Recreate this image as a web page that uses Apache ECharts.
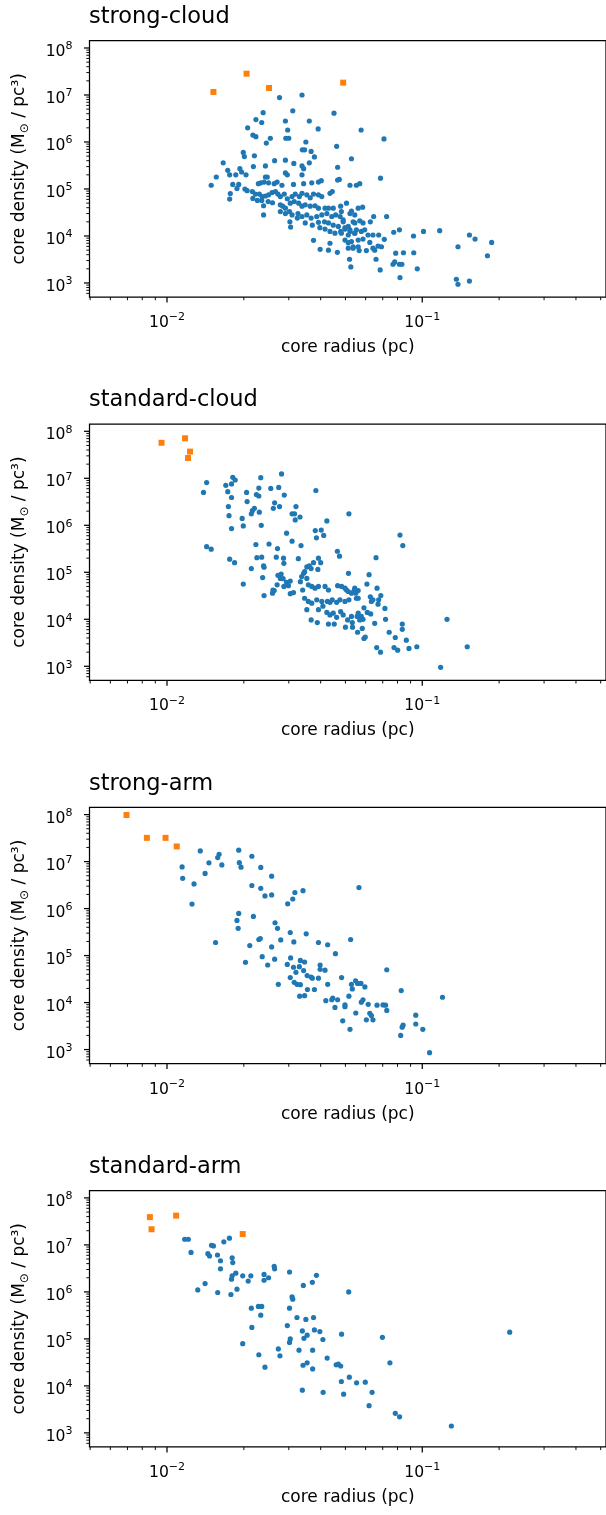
<!DOCTYPE html>
<html>
<head>
<meta charset="utf-8">
<script src="https://cdn.jsdelivr.net/npm/echarts@6.0.0/dist/echarts.min.js"></script>
<style>
html,body{margin:0;padding:0;background:#fff;}
#chart{width:606px;height:1515px;}
</style>
</head>
<body>
<div id="chart"></div>
<script>
// ---------------- data ----------------
const panelTitles = ['strong-cloud', 'standard-cloud', 'strong-arm', 'standard-arm'];
const xAxisTitle = 'core radius (pc)';
const yAxisTitle = 'core density (M{sub|⊙} / pc³)';
const xTickValues = [0.01, 0.1];
const xTickExponents = ['−2', '−1'];
const yTickValues = [1e3, 1e4, 1e5, 1e6, 1e7, 1e8];
const yTickExponents = ['3', '4', '5', '6', '7', '8'];

// [core radius (pc), core density (Msun/pc^3)]
const strongCloudCores = [
[0.0338,1.0e7],[0.0276,8.8e6],[0.0311,4.6e6],[0.0238,4.2e6],[0.0451,4.1e6],[0.0223,3.0e6],[0.0235,2.6e6],[0.0291,2.8e6],[0.0361,2.8e6],[0.0207,2.0e6],
[0.0297,1.8e6],[0.0391,1.9e6],[0.0217,1.4e6],[0.0223,1.3e6],[0.0292,1.2e6],[0.0300,1.2e6],[0.0254,1.2e6],[0.0245,9.5e5],[0.0350,1.0e6],[0.0462,8.1e5],
[0.0339,6.8e5],[0.0346,6.8e5],[0.0367,6.3e5],[0.0378,4.8e5],[0.0199,6.0e5],[0.0201,4.9e5],[0.0220,5.1e5],[0.0291,4.1e5],[0.0264,4.0e5],[0.0243,3.1e5],
[0.0314,3.5e5],[0.0338,3.1e5],[0.0343,2.7e5],[0.0361,3.6e5],[0.0166,3.6e5],[0.0173,2.5e5],[0.0156,1.8e5],[0.0149,1.2e5],[0.0176,2.0e5],[0.0186,2.0e5],
[0.0193,2.7e5],[0.0196,2.3e5],[0.0204,2.0e5],[0.0218,3.0e5],[0.0466,2.9e5],[0.0338,2.0e5],[0.0291,2.2e5],[0.0296,2.0e5],[0.0243,1.8e5],[0.0247,1.8e5],
[0.0228,1.3e5],[0.0233,1.35e5],[0.0240,1.4e5],[0.0250,1.35e5],[0.0263,1.3e5],[0.0270,1.4e5],[0.0282,1.2e5],[0.0313,1.25e5],[0.0343,1.3e5],[0.0369,1.35e5],
[0.0392,1.4e5],[0.0402,1.5e5],[0.0473,1.6e5],[0.0466,1.55e5],[0.0521,1.2e5],[0.0552,1.2e5],[0.0181,1.25e5],[0.0191,1.25e5],[0.0188,1.03e5],[0.0177,8.0e4],
[0.0176,6.1e4],[0.0202,1.0e5],[0.0206,9.2e4],[0.0216,8.8e4],[0.0222,7.8e4],[0.0230,7.8e4],[0.0236,6.9e4],[0.0243,7.1e4],[0.0250,7.5e4],[0.0258,8.4e4],
[0.0266,8.8e4],[0.0272,7.8e4],[0.0278,6.9e4],[0.0288,7.8e4],[0.0296,6.2e4],[0.0309,6.9e4],[0.0318,7.8e4],[0.0330,6.9e4],[0.0338,8.1e4],[0.0353,7.5e4],
[0.0364,6.5e4],[0.0375,7.8e4],[0.0392,7.5e4],[0.0404,6.9e4],[0.0435,8.1e4],[0.0444,8.8e4],[0.0217,6.3e4],[0.0226,5.7e4],[0.0235,5.7e4],[0.0239,4.4e4],
[0.0249,5.4e4],[0.0259,5.1e4],[0.0278,4.6e4],[0.0284,4.3e4],[0.0291,3.9e4],[0.0304,5.0e4],[0.0315,5.4e4],[0.0328,5.0e4],[0.0338,4.3e4],[0.0348,4.6e4],
[0.0364,4.3e4],[0.0380,4.4e4],[0.0392,3.9e4],[0.0416,3.9e4],[0.0429,3.9e4],[0.0448,3.9e4],[0.0479,4.3e4],[0.0505,5.0e4],[0.0521,3.0e4],[0.0544,2.8e4],
[0.0561,3.9e4],[0.0239,2.8e4],[0.0278,3.3e4],[0.0291,3.0e4],[0.0302,3.3e4],[0.0309,2.8e4],[0.0326,3.0e4],[0.0338,2.6e4],[0.0353,2.8e4],[0.0367,2.4e4],
[0.0386,2.6e4],[0.0404,2.8e4],[0.0423,3.0e4],[0.0442,2.6e4],[0.0458,2.8e4],[0.0477,2.6e4],[0.0303,2.0e4],[0.0324,2.4e4],[0.0348,1.9e4],[0.0371,1.7e4],
[0.0392,1.95e4],[0.0414,2.0e4],[0.0429,1.9e4],[0.0448,1.7e4],[0.0469,1.6e4],[0.0490,2.0e4],[0.0513,1.6e4],[0.0544,1.9e4],[0.0305,1.55e4],[0.0397,1.5e4],
[0.0416,1.4e4],[0.0435,1.25e4],[0.0455,1.15e4],[0.0479,1.25e4],[0.0498,1.4e4],[0.0521,1.25e4],[0.0544,1.15e4],[0.0375,8.1e3],[0.0435,7.0e3],[0.0398,5.2e3],
[0.0429,5.0e3],[0.0465,4.5e3],[0.0513,7.2e3],[0.0536,5.9e3],[0.0561,5.9e3],[0.0519,3.2e3],[0.0525,2.2e3],
[0.0576,1.8e6],[0.0708,1.16e6],[0.0528,4.4e5],[0.0686,1.7e5],[0.0569,1.3e5],[0.0584,4.1e4],[0.0528,3.4e4],[0.0482,3.3e4],[0.0490,2.2e4],[0.0536,2.0e4],
[0.0569,2.1e4],[0.0586,1.9e4],[0.0645,2.6e4],[0.0725,2.6e4],[0.0626,2.0e4],[0.0498,1.5e4],[0.0521,1.35e4],[0.0552,1.35e4],[0.0577,1.25e4],[0.0595,1.35e4],
[0.0482,1.15e4],[0.0513,1.05e4],[0.0544,1.15e4],[0.0613,1.05e4],[0.0641,1.05e4],[0.0675,1.05e4],[0.0773,1.2e4],[0.0814,1.35e4],[0.0924,1.0e4],[0.1011,1.25e4],
[0.117,1.3e4],[0.153,1.05e4],[0.161,8.6e3],[0.187,7.3e3],[0.138,5.9e3],[0.180,3.8e3],[0.0498,8.2e3],[0.0528,7.6e3],[0.0561,8.2e3],[0.0586,8.6e3],
[0.0623,7.3e3],[0.0710,8.5e3],[0.0671,6.1e3],[0.0692,5.9e3],[0.0651,5.0e3],[0.0513,5.5e3],[0.0536,5.5e3],[0.0566,4.9e3],[0.0604,4.9e3],[0.0641,5.5e3],
[0.0787,4.3e3],[0.0844,4.4e3],[0.0926,4.4e3],[0.0659,3.2e3],[0.0684,1.9e3],[0.0768,2.5e3],[0.0780,2.8e3],[0.0814,2.5e3],[0.0832,2.5e3],[0.0956,2.0e3],
[0.0818,1.3e3],[0.136,1.2e3],[0.138,9.4e2],[0.153,1.1e3]
];
const strongCloudCompact = [[0.0152,1.16e7],[0.0205,2.84e7],[0.0251,1.41e7],[0.0490,1.83e7]];

const standardCloudCores = [
[0.0143,8.1e6],[0.0139,5.0e6],[0.0170,7.1e6],[0.0181,1.05e7],[0.0185,9.2e6],[0.0179,7.6e6],[0.0173,5.2e6],[0.0179,3.9e6],[0.0174,2.5e6],[0.0175,1.6e6],
[0.0179,8.5e5],[0.0205,5.0e6],[0.0206,3.2e6],[0.0224,4.5e6],[0.0229,4.2e6],[0.0233,1.03e7],[0.0229,6.2e6],[0.0255,6.1e6],[0.0274,6.4e6],[0.0281,1.24e7],
[0.0288,4.4e6],[0.0264,3.0e6],[0.0261,2.3e6],[0.0276,2.5e6],[0.0230,1.9e6],[0.0220,2.3e6],[0.0216,2.05e6],[0.0214,1.75e6],[0.0197,1.4e6],[0.0199,9.7e5],
[0.0234,1.0e6],[0.0309,1.75e6],[0.0316,1.75e6],[0.0320,2.5e6],[0.0332,1.5e6],[0.0318,1.3e6],[0.0294,6.8e5],[0.0309,4.6e5],[0.0335,3.7e5],[0.0383,5.5e6],
[0.0516,1.75e6],[0.0423,1.24e6],[0.0381,7.7e5],[0.0402,7.9e5],[0.0385,5.4e5],[0.0411,6.1e5],[0.0143,3.5e5],[0.0149,3.1e5],[0.0176,1.9e5],[0.0184,1.6e5],
[0.0223,3.9e5],[0.0251,4.0e5],[0.0271,3.2e5],[0.0225,2.05e5],[0.0235,2.1e5],[0.0268,2.1e5],[0.0286,2.0e5],[0.0287,1.55e5],[0.0327,1.95e5],[0.0239,1.37e5],
[0.0240,1.28e5],[0.0214,1.2e5],[0.0237,7.7e4],[0.0199,5.6e4],[0.0240,3.2e4],[0.0259,3.6e4],[0.0263,4.1e4],[0.0272,8.6e4],[0.0278,7.4e4],[0.0280,9.2e4],
[0.0285,7.3e4],[0.0304,6.5e4],[0.0294,6.1e4],[0.0270,5.4e4],[0.0287,5.0e4],[0.0299,5.2e4],[0.0260,4.2e4],[0.0304,3.5e4],[0.0313,3.7e4],[0.0333,6.3e4],
[0.0337,8.1e4],[0.0343,9.5e4],[0.0346,1.03e5],[0.0353,1.3e5],[0.0361,1.37e5],[0.0367,1.2e5],[0.0375,1.6e5],[0.0392,2.0e5],[0.0400,1.6e5],[0.0390,1.15e5],
[0.0465,2.8e5],[0.0474,2.2e5],[0.0514,9.5e4],[0.0353,7.4e4],[0.0358,5.4e4],[0.0369,5.0e4],[0.0380,4.6e4],[0.0392,5.0e4],[0.0416,5.0e4],[0.0429,4.2e4],
[0.0466,5.2e4],[0.0483,5.0e4],[0.0505,4.2e4],[0.0528,3.6e4],[0.0544,4.6e4],[0.0561,4.1e4],[0.0340,4.2e4],[0.0346,2.8e4],[0.0358,2.4e4],[0.0369,2.2e4],
[0.0386,2.6e4],[0.0404,2.4e4],[0.0425,2.4e4],[0.0435,2.3e4],[0.0444,2.6e4],[0.0462,2.3e4],[0.0476,2.6e4],[0.0498,2.4e4],[0.0516,2.6e4],[0.0552,2.8e4],
[0.0353,1.6e4],[0.0367,9.7e3],[0.0388,8.5e3],[0.0392,1.6e4],[0.0408,1.9e4],[0.0423,1.4e4],[0.0435,1.24e4],[0.0448,1.35e4],[0.0462,1.1e4],[0.0479,1.45e4],
[0.0490,1.24e4],[0.0510,9.7e3],[0.0532,8.5e3],[0.0556,1.15e4],[0.0561,1.35e4],[0.0429,7.9e3],[0.0452,7.9e3],[0.0500,6.8e3],[0.0533,6.8e3],[0.0558,5.3e3],
[0.0818,6.2e5],[0.0839,3.7e5],[0.0659,2.05e5],[0.0619,8.9e4],[0.0607,5.6e4],[0.0665,4.6e4],[0.0541,4.1e4],[0.0549,3.6e4],[0.0561,2.8e4],[0.0498,4.6e4],
[0.0513,3.9e4],[0.0626,3.0e4],[0.0632,2.4e4],[0.0641,2.6e4],[0.0675,2.6e4],[0.0688,3.2e4],[0.0671,2.1e4],[0.0714,1.7e4],[0.0591,1.75e4],[0.0609,1.4e4],
[0.0628,1.3e4],[0.0528,1.15e4],[0.0577,1.15e4],[0.0586,1.0e4],[0.0569,9.7e3],[0.0718,1.0e4],[0.0651,8.2e3],[0.0582,6.4e3],[0.0591,3.9e3],[0.0598,4.2e3],
[0.0835,7.9e3],[0.0835,6.1e3],[0.0742,5.3e3],[0.0784,4.1e3],[0.0866,3.6e3],[0.0775,2.5e3],[0.0801,2.2e3],[0.0887,2.4e3],[0.0952,2.6e3],[0.0663,2.5e3],
[0.0686,2.0e3],[0.125,1.0e4],[0.150,2.6e3],[0.118,9.5e2]
];
const standardCloudCompact = [[0.00952,5.7e7],[0.01177,7.1e7],[0.01231,3.7e7],[0.01209,2.7e7]];

const strongArmCores = [
[0.0135,1.69e7],[0.0191,1.75e7],[0.0215,1.3e7],[0.0160,1.43e7],[0.0158,1.22e7],[0.0146,9.4e6],[0.0164,8.5e6],[0.0192,9.5e6],[0.0195,7.6e6],[0.01146,7.7e6],
[0.0233,7.5e6],[0.0141,5.6e6],[0.0257,4.9e6],[0.01152,4.4e6],[0.01276,3.35e6],[0.0215,3.1e6],[0.0233,2.7e6],[0.0242,1.86e6],[0.0257,1.95e6],[0.0317,2.2e6],
[0.0341,2.4e6],[0.0311,1.6e6],[0.0297,1.26e6],[0.01253,1.25e6],[0.0191,7.9e5],[0.0188,5.6e5],[0.0218,6.8e5],[0.0190,3.8e5],[0.0265,5.0e5],[0.0271,3.8e5],
[0.0304,3.1e5],[0.0351,2.9e5],[0.0155,1.9e5],[0.0211,1.63e5],[0.0229,2.2e5],[0.0232,2.3e5],[0.0257,1.53e5],[0.0279,2.15e5],[0.0314,1.95e5],[0.0392,1.9e5],
[0.0426,1.7e5],[0.0203,7.2e4],[0.0236,9.5e4],[0.0248,6.3e4],[0.0264,8.4e4],[0.0296,6.5e4],[0.0305,8.9e4],[0.0313,5.65e4],[0.0330,5.8e4],[0.0333,7.9e4],
[0.0346,7.3e4],[0.0343,4.8e4],[0.0320,4.4e4],[0.0354,3.75e4],[0.0367,3.5e4],[0.0371,3.3e4],[0.0392,3.3e4],[0.0398,6.3e4],[0.0416,4.9e4],[0.0398,5.1e4],
[0.0304,3.4e4],[0.0315,2.7e4],[0.0323,2.45e4],[0.0333,2.4e4],[0.0273,2.45e4],[0.0355,1.9e4],[0.0378,1.9e4],[0.0331,1.37e4],[0.0346,1.4e4],[0.0419,1.1e4],
[0.0426,2.45e4],
[0.0565,2.8e6],[0.0524,2.2e5],[0.0457,1.1e5],[0.0726,5.0e4],[0.0483,3.4e4],[0.0528,2.45e4],[0.0532,1.95e4],[0.0548,2.9e4],[0.0558,2.55e4],[0.0575,2.55e4],
[0.0596,2.15e4],[0.0827,1.8e4],[0.120,1.3e4],[0.0442,1.15e4],[0.0446,1.25e4],[0.0466,1.15e4],[0.0516,1.37e4],[0.0455,7.9e3],[0.0498,8.9e3],[0.0498,8.2e3],
[0.0549,6.0e3],[0.0577,1.02e4],[0.0586,1.15e4],[0.0614,9.2e3],[0.0665,8.8e3],[0.0702,8.9e3],[0.0718,8.8e3],[0.0726,6.8e3],[0.0623,5.9e3],[0.0632,5.3e3],
[0.0604,4.3e3],[0.0641,4.3e3],[0.0488,4.1e3],[0.0521,2.7e3],[0.0834,3.0e3],[0.0841,3.3e3],[0.0823,2.0e3],[0.0943,5.4e3],[0.0943,3.5e3],[0.1005,2.7e3],
[0.1068,8.6e2]
];
const strongArmCompact = [[0.00694,9.8e7],[0.00834,3.2e7],[0.00987,3.2e7],[0.01092,2.1e7]];

const standardArmCores = [
[0.01173,1.32e7],[0.01212,1.32e7],[0.01242,6.9e6],[0.01494,9.8e6],[0.0152,9.5e6],[0.0167,1.16e7],[0.01756,1.39e7],[0.01446,6.5e6],[0.01468,5.8e6],[0.01577,6.1e6],
[0.0162,4.6e6],[0.0180,5.3e6],[0.0181,4.2e6],[0.0162,3.1e6],[0.0186,2.5e6],[0.0180,2.2e6],[0.0179,1.86e6],[0.0198,2.2e6],[0.0213,2.2e6],[0.0208,1.7e6],
[0.0240,2.35e6],[0.0250,2.0e6],[0.0240,1.77e6],[0.0263,3.5e6],[0.0264,3.1e6],[0.0302,2.65e6],[0.0385,2.25e6],[0.0371,1.6e6],[0.0342,1.37e6],[0.0141,1.5e6],
[0.0132,1.1e6],[0.0158,9.7e5],[0.0178,8.8e5],[0.0188,1.14e6],[0.0309,7.8e5],[0.0311,7.0e5],[0.0214,4.5e5],[0.0228,4.9e5],[0.0235,4.9e5],[0.0233,3.2e5],
[0.0302,4.5e5],[0.0215,1.75e5],[0.0198,7.9e4],[0.0229,4.6e4],[0.0242,2.5e4],[0.0273,6.1e4],[0.0277,4.35e4],[0.0296,1.92e5],[0.0304,1.0e5],[0.0302,8.4e4],
[0.0323,2.85e5],[0.0350,2.6e5],[0.0375,2.85e5],[0.0339,1.48e5],[0.0344,1.03e5],[0.0354,1.2e5],[0.0378,1.55e5],[0.0397,1.43e5],[0.0329,5.75e4],[0.0372,5.75e4],
[0.0341,2.75e4],[0.0354,3.1e4],[0.0372,2.3e4],[0.0424,3.9e4],[0.0339,8.1e3],[0.0409,7.3e3],
[0.0515,1.0e6],[0.0408,9.7e4],[0.0483,1.26e5],[0.0698,1.08e5],[0.220,1.39e5],[0.0460,2.8e4],[0.0469,2.9e4],[0.0479,2.65e4],[0.0747,3.1e4],[0.0518,1.53e4],
[0.0482,1.24e4],[0.0553,1.16e4],[0.0598,1.2e4],[0.0492,6.65e3],[0.0636,7.3e3],[0.0619,3.8e3],[0.0784,2.6e3],[0.0815,2.2e3],[0.130,1.4e3]
];
const standardArmCompact = [[0.00857,3.9e7],[0.00870,2.15e7],[0.01086,4.2e7],[0.0198,1.7e7]];

const panelCores = [strongCloudCores, standardCloudCores, strongArmCores, standardArmCores];
const panelCompact = [strongCloudCompact, standardCloudCompact, strongArmCompact, standardArmCompact];

// ---------------- layout / style ----------------
const FONT = 'DejaVu Sans';
const X_MIN = 0.004971, X_MAX = 0.5245;
const Y_MIN = 503, Y_MAX = 1.43e8;
const GRID_LEFT = 89.5, GRID_WIDTH = 520, GRID_HEIGHT = 256.3;
const GRID_TOPS = [40.7, 424.0, 807.3, 1190.6];
const BLUE = '#1f77b4', ORANGE = '#ff7f0e';

const labelRich = {
  b: { fontFamily: FONT, fontSize: 15.6, color: '#000', lineHeight: 22 },
  s: { fontFamily: FONT, fontSize: 11, color: '#000', lineHeight: 12, verticalAlign: 'top' }
};
function fmt(values, exps) {
  return function (v) {
    for (let i = 0; i < values.length; i++) {
      if (Math.abs(Math.log10(v) - Math.log10(values[i])) < 1e-6) return '{b|10}{s|' + exps[i] + '}';
    }
    return '';
  };
}

const chart = echarts.init(document.getElementById('chart'), null, { renderer: 'canvas' });

const option = {
  animation: false,
  backgroundColor: '#fff',
  title: [], grid: [], xAxis: [], yAxis: [], series: []
};

for (let i = 0; i < 4; i++) {
  const top = GRID_TOPS[i];
  option.title.push({
    text: panelTitles[i], left: GRID_LEFT - 0.5, top: top - 35, padding: 0,
    textStyle: { fontFamily: FONT, fontSize: 22.5, fontWeight: 'normal', color: '#000' }
  });
  option.grid.push({
    left: GRID_LEFT, top: top, width: GRID_WIDTH, height: GRID_HEIGHT,
    show: true, borderColor: '#000', borderWidth: 1.25, backgroundColor: 'transparent'
  });
  option.xAxis.push({
    gridIndex: i, type: 'log', min: X_MIN, max: X_MAX,
    axisLine: { show: false }, axisTick: { show: false }, splitLine: { show: false },
    axisLabel: { formatter: fmt(xTickValues, xTickExponents), margin: 15, rich: labelRich,
                 showMinLabel: false, showMaxLabel: false },
    name: xAxisTitle, nameLocation: 'middle', nameGap: 42,
    nameTextStyle: { fontFamily: FONT, fontSize: 17, color: '#000' }
  });
  option.yAxis.push({
    gridIndex: i, type: 'log', min: Y_MIN, max: Y_MAX,
    axisLine: { show: false }, axisTick: { show: false }, splitLine: { show: false },
    axisLabel: { formatter: fmt(yTickValues, yTickExponents), margin: 17, rich: labelRich,
                 padding: [8, 0, 0, 0], showMinLabel: false, showMaxLabel: false },
    name: yAxisTitle, nameLocation: 'middle', nameGap: 59, nameRotate: 90,
    nameTextStyle: { fontFamily: FONT, fontSize: 17, color: '#000', lineHeight: 21,
      rich: { sub: { fontFamily: FONT, fontSize: 12, color: '#000', lineHeight: 13, verticalAlign: 'bottom' } } }
  });
  option.series.push({
    type: 'scatter', xAxisIndex: i, yAxisIndex: i, data: panelCores[i],
    symbol: 'circle', symbolSize: 5.2, itemStyle: { color: BLUE, opacity: 1 }, z: 2, silent: true
  });
  option.series.push({
    type: 'scatter', xAxisIndex: i, yAxisIndex: i, data: panelCompact[i],
    symbol: 'rect', symbolSize: 6, itemStyle: { color: ORANGE, opacity: 1 }, z: 3, silent: true
  });
}
chart.setOption(option);

// matplotlib-style log ticks (major at decades, minor at 2..9), positioned via the axes
const graphics = [];
for (let i = 0; i < 4; i++) {
  const top = GRID_TOPS[i];
  const bottom = top + GRID_HEIGHT;
  for (let k = -3; k <= 0; k++) {
    for (let m = 1; m <= 9; m++) {
      const v = m * Math.pow(10, k);
      if (v < X_MIN || v > X_MAX) continue;
      const px = chart.convertToPixel({ xAxisIndex: i }, v);
      const major = m === 1;
      graphics.push({ type: 'line', silent: true, z: 10,
        shape: { x1: px, y1: bottom, x2: px, y2: bottom + (major ? 5.5 : 3.2) },
        style: { stroke: '#000', lineWidth: major ? 1.25 : 0.95 } });
    }
  }
  for (let k = 2; k <= 8; k++) {
    for (let m = 1; m <= 9; m++) {
      const v = m * Math.pow(10, k);
      if (v < Y_MIN || v > Y_MAX) continue;
      const py = chart.convertToPixel({ yAxisIndex: i }, v);
      const major = m === 1;
      graphics.push({ type: 'line', silent: true, z: 10,
        shape: { x1: GRID_LEFT, y1: py, x2: GRID_LEFT - (major ? 5.5 : 3.2), y2: py },
        style: { stroke: '#000', lineWidth: major ? 1.25 : 0.95 } });
    }
  }
}
chart.setOption({ graphic: graphics });
</script>
</body>
</html>
